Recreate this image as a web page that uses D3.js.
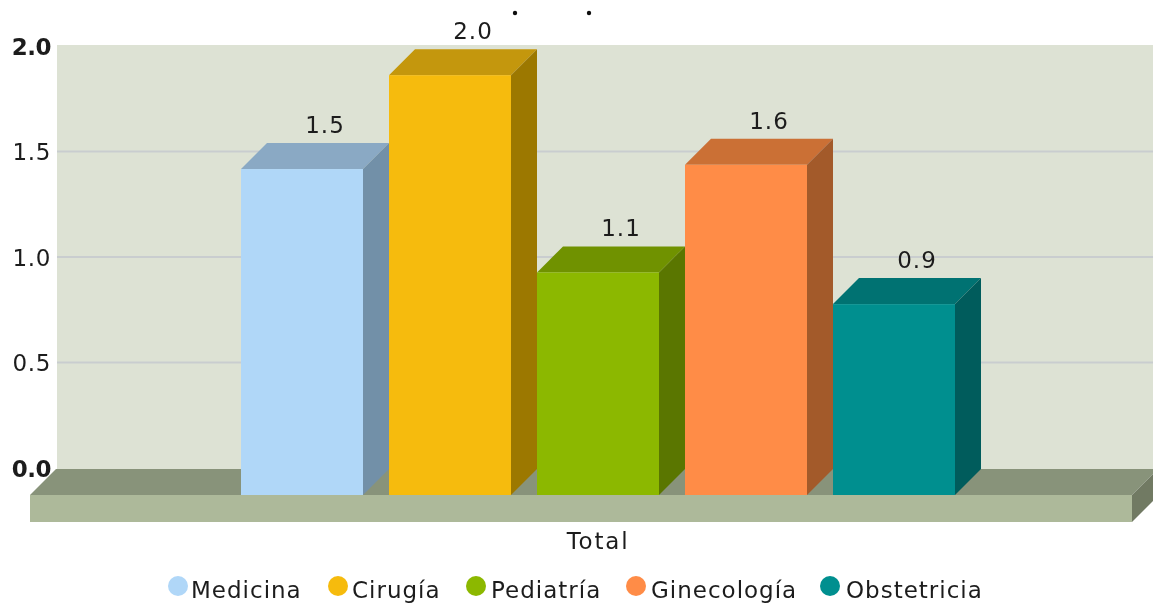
<!DOCTYPE html>
<html>
<head>
<meta charset="utf-8">
<script src="https://cdn.jsdelivr.net/npm/d3@7"></script>
<style>
html,body{margin:0;padding:0;background:#fff;overflow:hidden;}
text{font-family:"DejaVu Sans",sans-serif;fill:#1c1c1c;}
</style>
</head>
<body>
<div id="chart"></div>
<script>
var series=["Medicina","Cirugía","Pediatría","Ginecología","Obstetricia"];
var values=[1.54,1.985,1.05,1.56,0.9];
var labels=["1.5","2.0","1.1","1.6","0.9"];
var colors=["#b0d7f8","#f6bb0e","#8cb800","#ff8c47","#008f8f"];
var topColors=["#8aa9c4","#c49708","#709200","#cb6f36","#007272"];
var sideColors=["#7290a8","#9c7806","#5a7600","#a35a2b","#005b5b"];
var ticks=[0,0.5,1,1.5,2];
var legendX=[178,338,476,636,830];
var legendTextX=[191,352,491,651,846];

var width=1153, height=604;
var depth=26;

var svg=d3.select("#chart").append("svg").attr("width",width).attr("height",height).style("display","block");

// source picture is a bit soft
var blur=svg.append("defs").append("filter").attr("id","soft");
blur.append("feGaussianBlur").attr("stdDeviation",0.7);

var g=svg.append("g").attr("filter","url(#soft)");

var x=d3.scaleBand().domain(series).range([241,955]).paddingInner(0.1757);
var y=d3.scaleLinear().domain([0,2]).range([468,46]);

// back wall
g.append("rect").attr("x",57).attr("y",45).attr("width",width-57+4).attr("height",y(0)-45+2).attr("fill","#dde2d4");

g.selectAll("line.grid").data(ticks.slice(1,4)).enter().append("line")
    .attr("class","grid")
    .attr("x1",57).attr("x2",width+4)
    .attr("y1",function(d){return y(d);}).attr("y2",function(d){return y(d);})
    .attr("stroke","#c9cdcf").attr("stroke-width",2);

// floor
var floorY=y(0)+1;
g.append("polygon").attr("fill","#88937a")
    .attr("points",[[30,floorY+depth],[30+depth,floorY],[1132+depth,floorY],[1132,floorY+depth]].join(" "));
g.append("polygon").attr("fill","#717a64")
    .attr("points",[[1132,floorY+depth],[1132+depth,floorY],[1132+depth,floorY+27],[1132,floorY+depth+27]].join(" "));
g.append("rect").attr("x",30).attr("y",floorY+depth).attr("width",1102).attr("height",27).attr("fill","#adb99a");

// bars, front face sits depth px down and left of the wall position
var bars=g.selectAll("g.bar").data(series).enter().append("g").attr("class","bar");
bars.append("polygon")
    .attr("fill",function(d,i){return topColors[i];})
    .attr("points",function(d,i){
        var l=x(d), r=l+x.bandwidth(), t=y(values[i]);
        return [[l,t+depth],[l+depth,t],[r+depth,t],[r,t+depth]].join(" ");
    });
bars.append("polygon")
    .attr("fill",function(d,i){return sideColors[i];})
    .attr("points",function(d,i){
        var r=x(d)+x.bandwidth(), t=y(values[i]);
        return [[r,t+depth],[r+depth,t],[r+depth,y(0)+1],[r,y(0)+1+depth]].join(" ");
    });
bars.append("rect")
    .attr("fill",function(d,i){return colors[i];})
    .attr("x",function(d){return x(d);})
    .attr("y",function(d,i){return y(values[i])+depth;})
    .attr("width",x.bandwidth())
    .attr("height",function(d,i){return y(0)+1-y(values[i]);});
bars.append("text")
    .attr("x",function(d){return x(d)+x.bandwidth()/2+depth-3;})
    .attr("y",function(d,i){return y(values[i])-10;})
    .attr("text-anchor","middle")
    .attr("font-size","23px")
    .style("letter-spacing","1px")
    .text(function(d,i){return labels[i];});

// y axis
var yAxis=d3.axisLeft(y).tickValues(ticks).tickSize(0).tickPadding(6).tickFormat(d3.format(".1f"));
var yg=g.append("g").attr("transform","translate(57,1)").call(yAxis);
yg.select(".domain").remove();
yg.selectAll("text")
    .attr("font-family","DejaVu Sans")
    .attr("font-size","23px")
    .attr("font-weight",function(d){return d==0||d==2?"bold":"normal";})
    .style("letter-spacing",function(d){return d==0||d==2?"-0.5px":"0.6px";})
    .style("fill","#1c1c1c");

g.append("text").attr("x",598).attr("y",549).attr("text-anchor","middle")
    .attr("font-size","23px").style("letter-spacing","1.8px").text("Total");

// legend
var leg=g.selectAll("g.leg").data(series).enter().append("g").attr("class","leg");
leg.append("circle")
    .attr("cx",function(d,i){return legendX[i];})
    .attr("cy",586).attr("r",10)
    .attr("fill",function(d,i){return colors[i];});
leg.append("text")
    .attr("x",function(d,i){return legendTextX[i];})
    .attr("y",598)
    .attr("font-size","23px").style("letter-spacing","1px")
    .text(function(d){return d;});

// what is left of the clipped title
g.selectAll("circle.stub").data([515,589]).enter().append("circle")
    .attr("class","stub")
    .attr("cx",function(d){return d;}).attr("cy",13).attr("r",2.2).attr("fill","#111");
</script>
</body>
</html>
